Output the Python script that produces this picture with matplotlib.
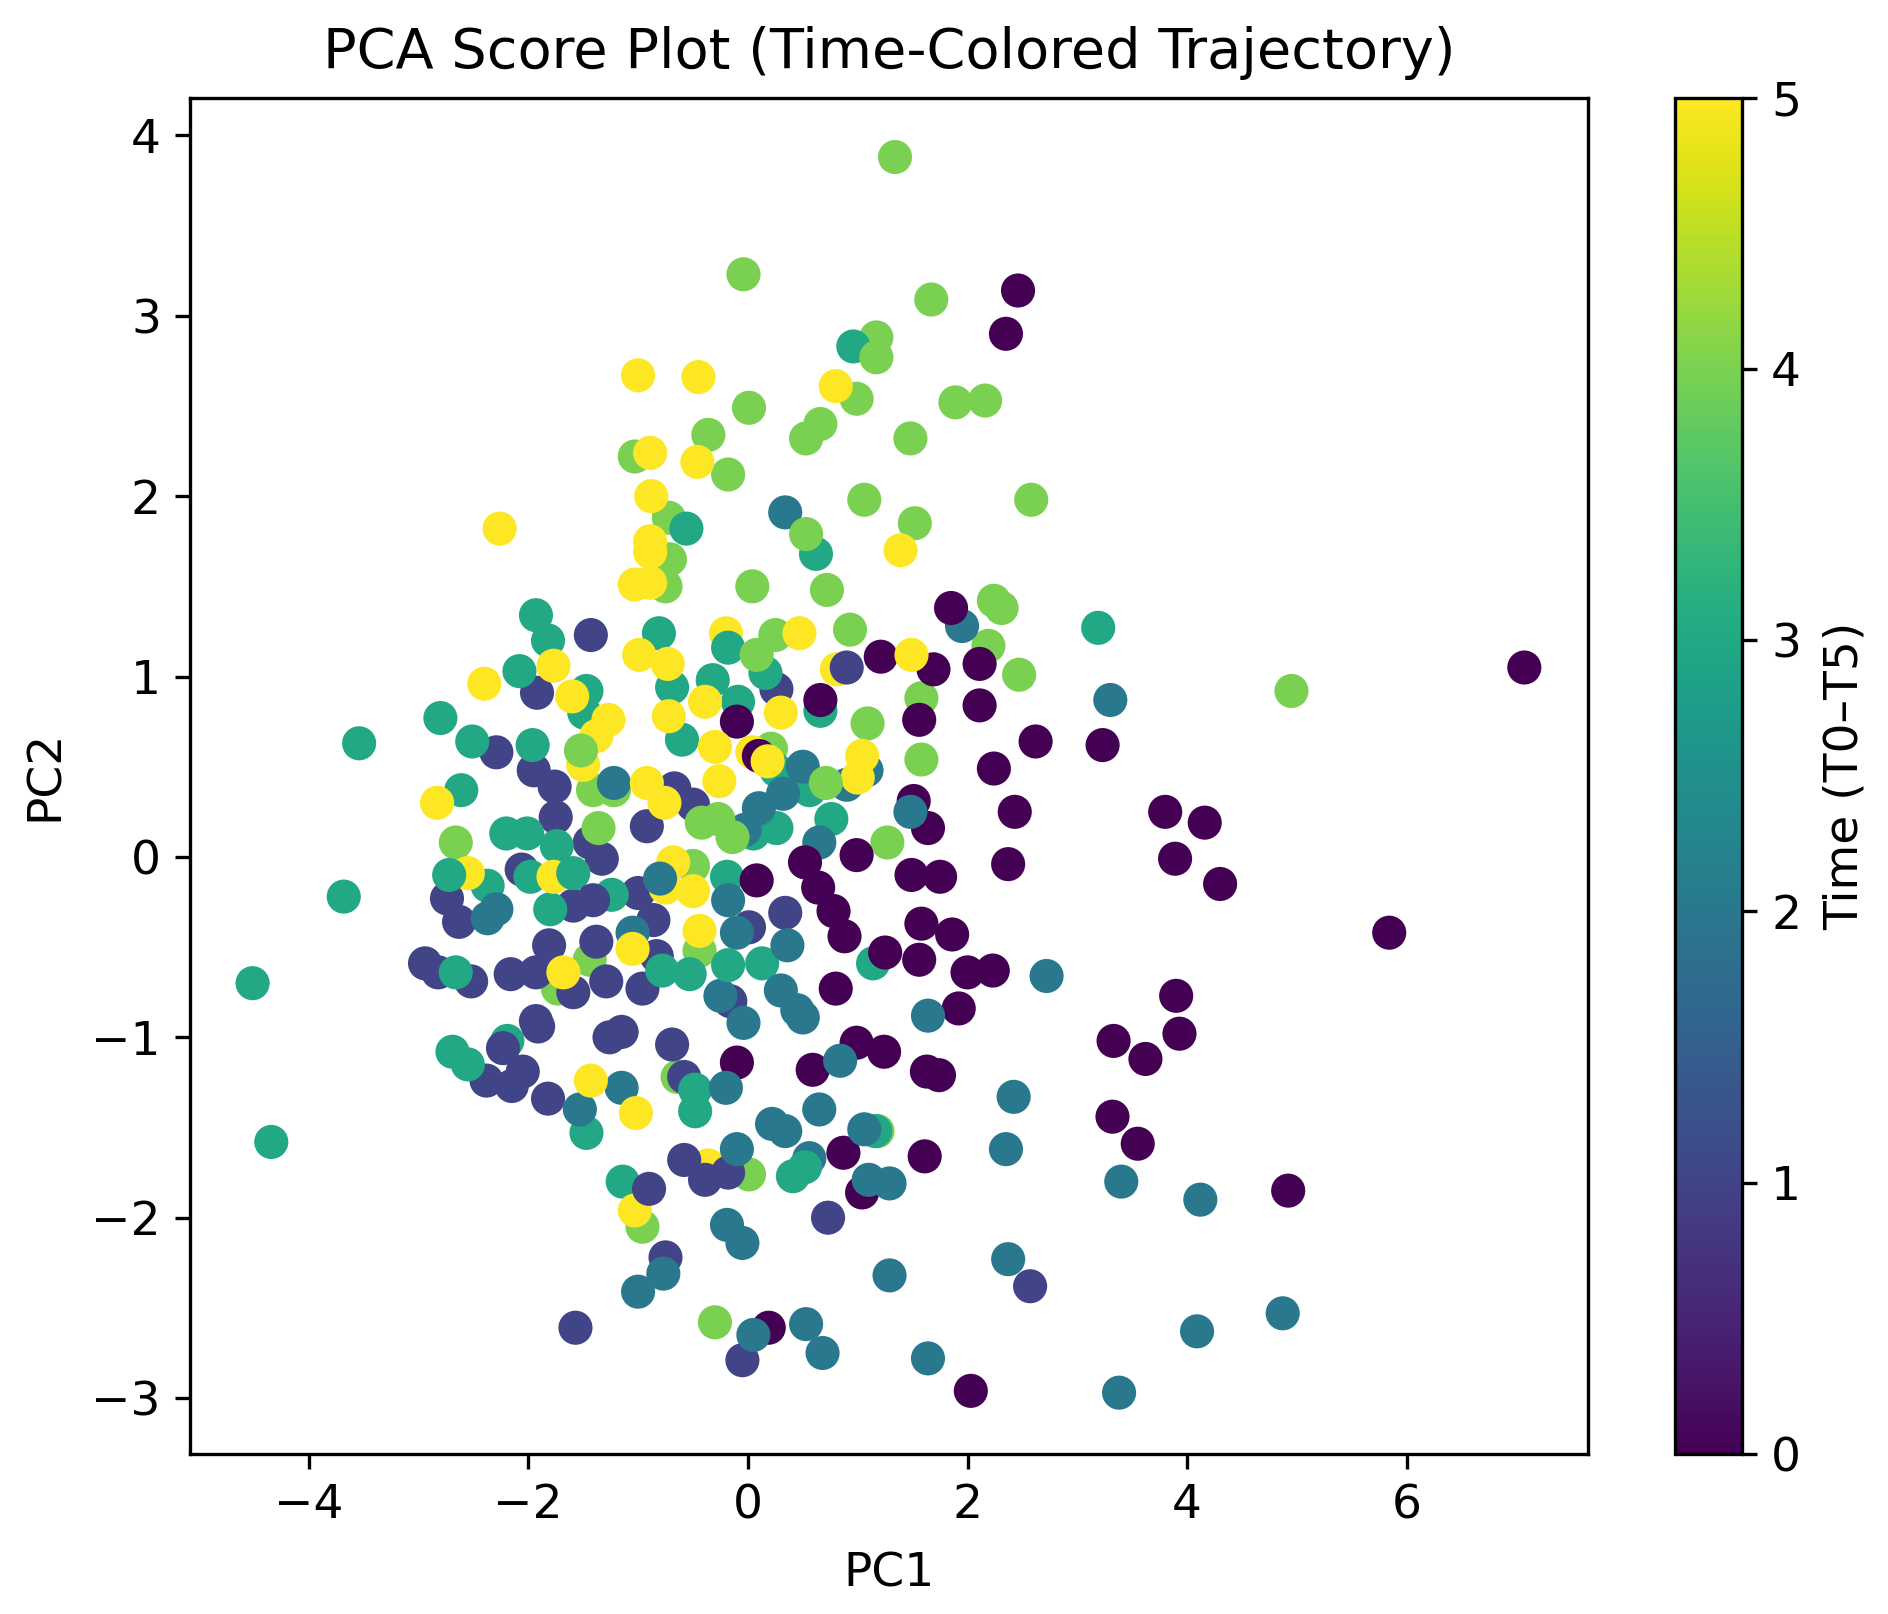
#!/usr/bin/env python3
"""PCA score plot, points coloured by sampling time."""
import numpy as np
import matplotlib
matplotlib.use('Agg')
import matplotlib.pyplot as plt

# (PC1, PC2) scores per time point
t0_pc1 = [7.07, 5.84, 4.92, 2.46, 2.35, 1.21, 1.69, 2.11, 2.11, 1.56, -0.10, 0.66, 2.62, 3.23, 2.24, 2.43,
          3.80, 4.16, 1.51, 1.64, 2.37, 3.89, 4.30, 0.99, 0.08, 0.64, 1.49, 1.75, 0.78, 0.88, 1.58, 1.86,
          1.25, 1.56, 2.00, 2.23, 0.80, 3.90, 1.92, 3.93, 3.33, 3.62, 0.99, 1.24, -0.10, 0.59, 1.63, 1.74, 3.32,
          3.55, 1.61, 0.87, 1.04, 0.19, 2.03]
t0_pc2 = [1.05, -0.42, -1.85, 3.14, 2.90, 1.11, 1.04, 1.07, 0.84, 0.76, 0.75, 0.87, 0.64, 0.62, 0.49, 0.25,
          0.25, 0.19, 0.31, 0.16, -0.04, -0.01, -0.15, 0.01, -0.13, -0.17, -0.10, -0.11, -0.30, -0.44, -0.37,
          -0.43, -0.53, -0.57, -0.64, -0.63, -0.73, -0.77, -0.84, -0.98, -1.02, -1.12, -1.03, -1.08, -1.14, -1.18,
          -1.19, -1.21, -1.44, -1.59, -1.66, -1.64, -1.86, -2.61, -2.96]

t1_pc1 = [-1.43, -1.92, 0.26, -2.29, -1.95, -1.76, -1.75, -0.67, -0.50, -0.92, -2.06, -1.44, -1.33, -2.74,
          -2.63, -1.59, -1.00, -0.86, -1.81, -1.38, -2.94, -2.82, -2.52, -2.16, -1.93, -1.59, -1.29, -0.96,
          -0.83, -1.93, -1.91, -1.26, -1.15, -0.69, -2.38, -2.15, -2.05, -1.82, -0.58,
          0.73, -0.75, -1.57, -0.05, 2.57, 0.01, 0.34, -0.16]
t1_pc2 = [1.23, 0.91, 0.93, 0.58, 0.48, 0.39, 0.22, 0.38, 0.29, 0.17, -0.07, 0.08, -0.01, -0.23, -0.36, -0.27,
          -0.20, -0.35, -0.49, -0.47, -0.59, -0.64, -0.69, -0.65, -0.64, -0.75, -0.69, -0.73, -0.55, -0.91,
          -0.94, -1.00, -0.97, -1.04, -1.24, -1.27, -1.19, -1.34, -1.22,
          -2.00, -2.22, -2.61, -2.79, -2.38, -0.39, -0.31, -0.80]

t2_pc1 = [0.34, 1.95, 3.30, 1.48, -1.22, 0.32, 0.10, 0.65, -0.18, -1.05, -0.10, 0.36, 2.72, -0.25,
          0.30, 0.45, 0.50, -0.04, 1.64, 0.84, -1.15, -0.20, 2.42, 0.65, -1.53, 0.22, 0.34, 1.06, 2.35, 0.56,
          1.10, 1.29, 3.40, 4.12, -0.19, -0.05, 2.37, 1.29, -0.77, -1.00, 4.87, 0.53, 0.05, 4.09, 0.68, 1.64, 3.38,
          -2.37, -2.29, -0.03, 0.50, 0.90, 1.08]
t2_pc2 = [1.91, 1.28, 0.87, 0.25, 0.41, 0.35, 0.27, 0.08, -0.24, -0.42, -0.42, -0.49, -0.66, -0.77,
          -0.74, -0.85, -0.89, -0.92, -0.88, -1.13, -1.28, -1.28, -1.33, -1.40, -1.40, -1.48, -1.52, -1.51, -1.62,
          -1.67, -1.79, -1.81, -1.80, -1.90, -2.04, -2.14, -2.23, -2.32, -2.31, -2.41, -2.53, -2.59, -2.65, -2.63, -2.75,
          -2.78, -2.97, -0.34, -0.29, 0.15, 0.50, 0.40, 0.48]

t3_pc1 = [-3.54, -3.68, -4.51, -4.34, -2.80, -2.61, -2.51, -1.93, -1.82, -2.08, -1.96, -1.47, -1.49, -0.81,
          -0.32, -0.69, -0.09, 0.16, -0.60, -0.56, 3.19, -2.20, -2.01, -1.74, -1.98, -2.37, -1.80, -1.24,
          0.26, -0.19, -2.66, -0.78, -0.53, 0.13, 1.14, -2.69, -2.55, -2.19, -0.48, -0.48, -1.47, -1.14,
          1.16, 0.26, 0.76, 0.56, 0.66, 0.62, 0.96, 0.05]
t3_pc2 = [0.63, -0.22, -0.70, -1.58, 0.77, 0.37, 0.64, 1.34, 1.20, 1.03, 0.62, 0.92, 0.80, 1.24,
          0.98, 0.94, 0.86, 1.02, 0.65, 1.82, 1.27, 0.13, 0.13, 0.06, -0.11, -0.16, -0.29, -0.21,
          0.16, -0.11, -0.64, -0.63, -0.65, -0.59, -0.59, -1.08, -1.15, -1.02, -1.29, -1.41, -1.53, -1.80,
          -1.52, 0.48, 0.21, 0.37, 0.81, 1.68, 2.83, 0.13]

t4_pc1 = [1.34, -0.04, 1.67, 1.17, 0.01, 0.99, 1.89, 2.16, 0.66, 0.53, 1.48, -0.36, -0.18, 1.06, 2.58, 1.52,
          -0.72, -0.71, -0.75, 0.04, 0.72, 2.24, 2.31, 0.93, 0.25, 2.19, 2.47, 1.58, 4.95, 1.09, 1.58,
          -1.41, -1.22, 1.27, -2.66, 0.21, -0.50, -0.44, -1.44, -1.73, -0.64, 0.01,
          -0.96, -0.30, 1.18, -1.03]
t4_pc2 = [3.88, 3.23, 3.09, 2.88, 2.49, 2.54, 2.52, 2.53, 2.40, 2.32, 2.32, 2.34, 2.12, 1.98, 1.98, 1.85,
          1.88, 1.65, 1.50, 1.50, 1.48, 1.42, 1.38, 1.26, 1.23, 1.17, 1.01, 0.88, 0.92, 0.74, 0.54,
          0.37, 0.37, 0.08, 0.08, 0.60, -0.05, -0.52, -0.57, -0.73, -1.22, -1.76,
          -2.05, -2.58, -1.52, 2.22]

t5_pc1 = [-1.00, -0.45, 0.80, -2.26, -0.89, -0.46, -0.88, -0.89, -0.89, 1.39, -1.03, -0.89, -0.20, 0.47, -0.99, -0.73,
          1.49, 0.81, -2.40, -1.77, -1.60, -1.27, -1.38, -0.72, -0.39, 0.30, -0.30, -1.50, 1.04, 1.00, -0.92, -0.26,
          -0.76, -2.83, -1.77, -2.55, -0.68, -0.75, -0.50, -0.44, -1.05, -1.68, -1.43, -1.02, -1.03, -0.36, 0.04]
t5_pc2 = [2.67, 2.66, 2.61, 1.82, 2.24, 2.19, 2.00, 1.75, 1.69, 1.70, 1.51, 1.52, 1.24, 1.24, 1.12, 1.07, 1.12, 1.04,
          0.96, 1.06, 0.89, 0.76, 0.67, 0.78, 0.86, 0.80, 0.61, 0.51, 0.56, 0.44, 0.41, 0.42, 0.30, 0.30, -0.11, -0.09,
          -0.03, -0.17, -0.19, -0.41, -0.51, -0.64, -1.24, -1.42, -1.96, -1.71, 0.58]

# points that sit above their neighbours
t3_top_pc1 = [-2.72, -1.59, -0.18, -0.18, 0.41, 0.52]
t3_top_pc2 = [-0.10, -0.09, 1.16, -0.60, -1.77, -1.72]
t1_top_pc1 = [0.90, -1.41, -2.23, -0.90, -0.39, -0.58, -0.18]
t1_top_pc2 = [1.05, -0.24, -1.06, -1.84, -1.79, -1.68, -1.75]
t2_top_pc1 = [-0.80, -0.10]
t2_top_pc2 = [-0.12, -1.62]
t0_top_pc1 = [1.85, 0.52, 0.10]
t0_top_pc2 = [1.38, -0.03, 0.56]
t4_top_pc1 = [0.08, 0.71, -1.52, -0.42, -0.27, -0.14, -1.36, 0.53, 1.17]
t4_top_pc2 = [1.12, 0.41, 0.59, 0.19, 0.21, 0.11, 0.16, 1.79, 2.77]
t5_top_pc1 = [0.18]
t5_top_pc2 = [0.53]

# drawing order: later groups end up on top
groups = [(4, t4_pc1, t4_pc2), (1, t1_pc1, t1_pc2), (3, t3_pc1, t3_pc2), (0, t0_pc1, t0_pc2),
          (2, t2_pc1, t2_pc2), (5, t5_pc1, t5_pc2),
          (3, t3_top_pc1, t3_top_pc2), (1, t1_top_pc1, t1_top_pc2), (2, t2_top_pc1, t2_top_pc2),
          (0, t0_top_pc1, t0_top_pc2), (4, t4_top_pc1, t4_top_pc2), (5, t5_top_pc1, t5_top_pc2)]
pc1 = np.concatenate([g[1] for g in groups])
pc2 = np.concatenate([g[2] for g in groups])
times = np.concatenate([np.full(len(g[1]), g[0]) for g in groups])

W, H = 1888, 1614
fig = plt.figure(figsize=(W / 300, H / 300), dpi=300)
ax = fig.add_axes([190 / W, 1 - 1454 / H, 1398 / W, 1356.5 / H])
cax = fig.add_axes([1675 / W, 1 - 1454 / H, 67 / W, 1356.5 / H])

sc = ax.scatter(pc1, pc2, c=times, cmap='viridis', vmin=0, vmax=5, s=67, linewidths=0)
ax.set_xlim(-5.08, 7.65)
ax.set_ylim(-3.31, 4.21)
ax.tick_params(labelsize=11.3)
ax.set_xlabel('PC1', fontsize=11.3, labelpad=5.5)
ax.set_ylabel('PC2', fontsize=11.3, labelpad=5.5)
ax.set_title('PCA Score Plot (Time-Colored Trajectory)', fontsize=13.4, pad=7)

cb = fig.colorbar(sc, cax=cax)
cb.ax.tick_params(labelsize=11.3)
cb.set_label('Time (T0–T5)', fontsize=11.3, labelpad=5)

fig.savefig('out.png', dpi=300)
